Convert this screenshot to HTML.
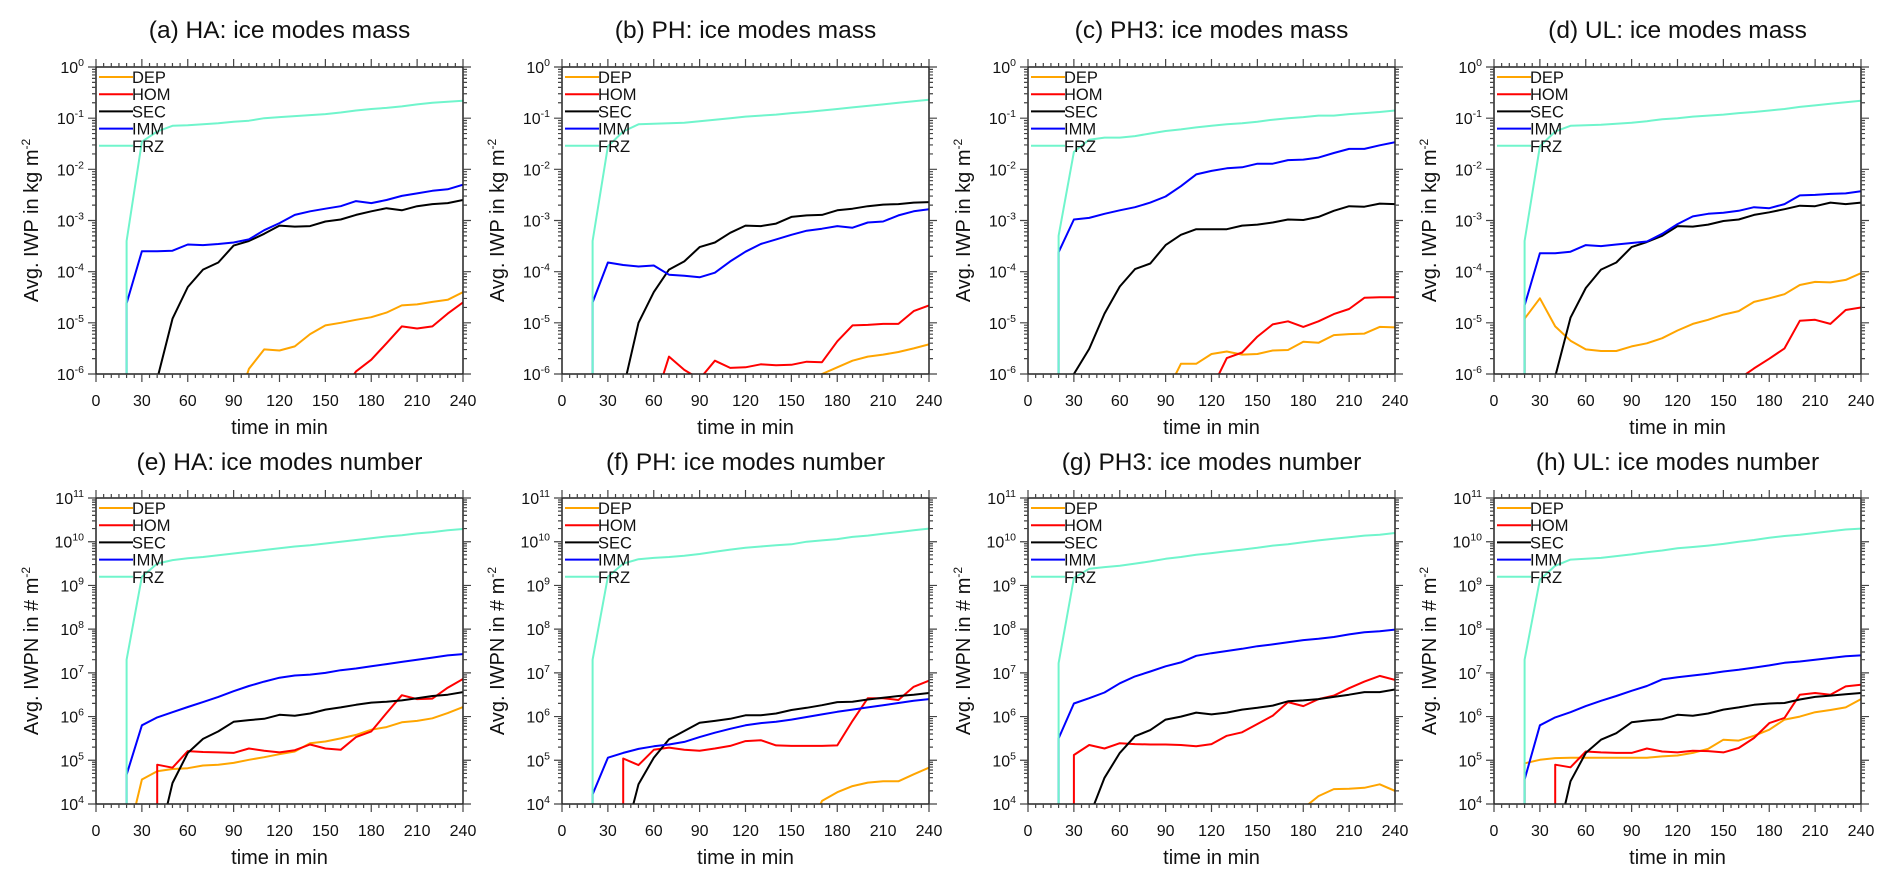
<!DOCTYPE html>
<html><head><meta charset="utf-8"><style>
html,body{margin:0;padding:0;background:#fff;}
svg{display:block;font-family:"Liberation Sans",Arial,sans-serif;}
</style></head><body>
<svg id="fig" width="1892" height="883" viewBox="0 0 1892 883" xmlns="http://www.w3.org/2000/svg"></svg>
<script>
// time axis (minutes)
const times = [0,10,20,30,40,50,60,70,80,90,100,110,120,130,140,150,160,170,180,190,200,210,220,230,240];
const seriesNames = ["DEP","HOM","SEC","IMM","FRZ"];
const seriesColors = ["#ffa500","#ff0000","#000000","#0000ff","#70f5cc"];
const panelTitles = ["(a) HA: ice modes mass","(b) PH: ice modes mass","(c) PH3: ice modes mass","(d) UL: ice modes mass",
 "(e) HA: ice modes number","(f) PH: ice modes number","(g) PH3: ice modes number","(h) UL: ice modes number"];
const xTickLabels = [0,30,60,90,120,150,180,210,240];
const massExpTicks = [-6,-5,-4,-3,-2,-1,0];
const numExpTicks = [4,5,6,7,8,9,10,11];
const n=null;
// log10 values, one array per series per panel
const aDEP=[n,n,n,n,n,n,n,n,n,-6.8,-5.9,-5.52,-5.54,-5.46,-5.22,-5.05,-5.0,-4.94,-4.89,-4.8,-4.66,-4.64,-4.59,-4.55,-4.4];
const aHOM=[n,n,n,n,n,n,n,n,n,n,n,n,n,n,n,n,-6.4,-5.95,-5.72,-5.4,-5.07,-5.11,-5.07,-4.82,-4.6];
const aSEC=[n,n,n,n,-6.1,-4.92,-4.3,-3.96,-3.82,-3.49,-3.4,-3.26,-3.1,-3.12,-3.11,-3.02,-2.98,-2.89,-2.82,-2.76,-2.8,-2.72,-2.68,-2.66,-2.6];
const aIMM=[n,n,-4.62,-3.6,-3.6,-3.59,-3.47,-3.48,-3.46,-3.43,-3.37,-3.19,-3.05,-2.89,-2.82,-2.77,-2.72,-2.62,-2.66,-2.6,-2.52,-2.47,-2.42,-2.39,-2.3];
const aFRZ=[n,n,-3.4,-1.46,-1.26,-1.15,-1.14,-1.12,-1.1,-1.07,-1.05,-1.0,-0.98,-0.96,-0.94,-0.92,-0.89,-0.85,-0.82,-0.8,-0.77,-0.73,-0.7,-0.68,-0.66];
const bDEP=[n,n,n,n,n,n,n,n,n,n,n,n,n,n,n,n,-6.4,-6.0,-5.87,-5.74,-5.66,-5.62,-5.57,-5.5,-5.42];
const bHOM=[n,n,n,n,n,n,-6.6,-5.66,-5.92,-6.1,-5.74,-5.88,-5.87,-5.81,-5.83,-5.82,-5.76,-5.77,-5.36,-5.05,-5.04,-5.02,-5.02,-4.77,-4.66];
const bSEC=[n,n,n,n,-6.3,-5.0,-4.4,-3.96,-3.8,-3.52,-3.43,-3.24,-3.1,-3.11,-3.06,-2.93,-2.9,-2.89,-2.8,-2.77,-2.72,-2.69,-2.68,-2.65,-2.64];
const bIMM=[n,n,-4.6,-3.82,-3.87,-3.9,-3.88,-4.06,-4.08,-4.11,-4.02,-3.8,-3.61,-3.46,-3.37,-3.28,-3.2,-3.16,-3.11,-3.14,-3.04,-3.02,-2.9,-2.82,-2.78];
const bFRZ=[n,n,-3.4,-1.55,-1.26,-1.12,-1.11,-1.1,-1.09,-1.06,-1.03,-1.0,-0.97,-0.95,-0.93,-0.9,-0.88,-0.85,-0.82,-0.79,-0.76,-0.73,-0.7,-0.67,-0.64];
const cDEP=[n,n,n,n,n,n,n,n,n,-6.4,-5.8,-5.8,-5.61,-5.56,-5.62,-5.61,-5.54,-5.53,-5.37,-5.39,-5.24,-5.22,-5.21,-5.08,-5.09];
const cHOM=[n,n,n,n,n,n,n,n,n,n,n,n,-6.3,-5.69,-5.58,-5.27,-5.03,-4.97,-5.08,-4.97,-4.83,-4.73,-4.51,-4.5,-4.5];
const cSEC=[n,n,n,-6.0,-5.51,-4.82,-4.29,-3.95,-3.84,-3.48,-3.28,-3.17,-3.17,-3.17,-3.1,-3.08,-3.04,-2.98,-2.99,-2.93,-2.81,-2.72,-2.73,-2.67,-2.68];
const cIMM=[n,n,-3.62,-2.98,-2.95,-2.87,-2.8,-2.74,-2.65,-2.53,-2.33,-2.1,-2.03,-1.98,-1.96,-1.89,-1.89,-1.82,-1.81,-1.77,-1.68,-1.6,-1.6,-1.53,-1.47];
const cFRZ=[n,n,-3.3,-1.66,-1.42,-1.38,-1.38,-1.35,-1.3,-1.25,-1.22,-1.18,-1.15,-1.12,-1.1,-1.07,-1.03,-1.0,-0.98,-0.95,-0.95,-0.92,-0.9,-0.88,-0.85];
const dDEP=[n,n,-4.92,-4.52,-5.07,-5.35,-5.52,-5.55,-5.55,-5.46,-5.4,-5.3,-5.15,-5.02,-4.94,-4.84,-4.77,-4.59,-4.52,-4.44,-4.26,-4.2,-4.21,-4.16,-4.03];
const dHOM=[n,n,n,n,n,n,n,n,n,n,n,n,n,n,n,n,-6.1,-5.89,-5.7,-5.5,-4.96,-4.94,-5.02,-4.75,-4.7];
const dSEC=[n,n,n,n,-6.05,-4.9,-4.32,-3.96,-3.82,-3.52,-3.42,-3.3,-3.11,-3.12,-3.08,-3.01,-2.98,-2.89,-2.84,-2.78,-2.71,-2.72,-2.65,-2.68,-2.65];
const dIMM=[n,n,-4.66,-3.64,-3.64,-3.61,-3.48,-3.5,-3.47,-3.44,-3.41,-3.26,-3.07,-2.92,-2.87,-2.85,-2.81,-2.74,-2.76,-2.68,-2.51,-2.5,-2.48,-2.47,-2.43];
const dFRZ=[n,n,-3.4,-1.55,-1.26,-1.15,-1.14,-1.13,-1.11,-1.09,-1.06,-1.02,-1.0,-0.97,-0.95,-0.93,-0.9,-0.88,-0.85,-0.82,-0.78,-0.75,-0.72,-0.69,-0.66];
const eDEP=[n,n,3.1,4.56,4.75,4.8,4.82,4.88,4.9,4.94,5.01,5.07,5.14,5.2,5.39,5.43,5.5,5.58,5.7,5.76,5.87,5.9,5.96,6.08,6.22];
const eHOM=[n,n,n,n,4.9,4.83,5.21,5.19,5.18,5.17,5.27,5.22,5.18,5.23,5.36,5.27,5.24,5.53,5.66,6.08,6.49,6.4,6.41,6.66,6.86];
const eSEC=[n,n,n,n,3.0,4.48,5.17,5.49,5.66,5.88,5.92,5.95,6.04,6.02,6.07,6.16,6.21,6.27,6.32,6.34,6.37,6.42,6.47,6.5,6.56];
const eIMM=[n,n,4.67,5.8,5.98,6.1,6.22,6.33,6.45,6.58,6.7,6.8,6.89,6.94,6.96,7.0,7.06,7.1,7.15,7.2,7.25,7.3,7.35,7.4,7.43];
const eFRZ=[n,n,7.3,9.2,9.5,9.58,9.62,9.65,9.69,9.73,9.77,9.81,9.85,9.89,9.92,9.96,10.0,10.04,10.08,10.12,10.15,10.19,10.22,10.26,10.29];
const fDEP=[n,n,n,n,n,n,n,n,n,n,n,n,n,n,n,n,3.3,4.07,4.27,4.41,4.49,4.52,4.52,4.68,4.83];
const fHOM=[n,n,n,n,5.04,4.89,5.24,5.29,5.24,5.22,5.27,5.33,5.44,5.46,5.34,5.33,5.33,5.33,5.34,5.9,6.42,6.42,6.38,6.68,6.82];
const fSEC=[n,n,n,n,3.1,4.45,5.06,5.48,5.67,5.86,5.9,5.95,6.03,6.03,6.07,6.15,6.2,6.26,6.33,6.34,6.39,6.43,6.47,6.5,6.54];
const fIMM=[n,n,4.22,5.06,5.17,5.26,5.32,5.36,5.42,5.53,5.63,5.72,5.8,5.85,5.88,5.93,5.99,6.05,6.11,6.16,6.21,6.26,6.31,6.36,6.4];
const fFRZ=[n,n,7.3,9.2,9.5,9.6,9.63,9.65,9.68,9.72,9.77,9.82,9.86,9.89,9.92,9.94,10.0,10.03,10.06,10.11,10.14,10.18,10.22,10.26,10.3];
const gDEP=[n,n,n,n,n,n,n,n,n,n,n,n,n,n,n,n,n,n,3.9,4.18,4.34,4.35,4.37,4.45,4.3];
const gHOM=[n,n,n,5.12,5.35,5.27,5.39,5.37,5.36,5.36,5.35,5.32,5.37,5.56,5.64,5.83,6.02,6.33,6.24,6.4,6.48,6.65,6.8,6.93,6.84];
const gSEC=[n,n,n,n,3.7,4.6,5.17,5.55,5.69,5.93,6.0,6.09,6.05,6.09,6.16,6.2,6.25,6.35,6.37,6.4,6.45,6.5,6.56,6.56,6.62];
const gIMM=[n,n,5.5,6.3,6.42,6.55,6.76,6.92,7.03,7.15,7.24,7.39,7.45,7.5,7.55,7.61,7.65,7.7,7.75,7.78,7.82,7.88,7.93,7.95,7.99];
const gFRZ=[n,n,7.22,9.17,9.38,9.42,9.45,9.5,9.55,9.61,9.65,9.7,9.74,9.78,9.82,9.86,9.91,9.94,9.99,10.03,10.07,10.1,10.14,10.16,10.2];
const hDEP=[n,n,4.93,5.01,5.05,5.06,5.06,5.06,5.06,5.06,5.06,5.09,5.11,5.17,5.26,5.47,5.45,5.56,5.7,5.93,6.0,6.1,6.15,6.21,6.4];
const hHOM=[n,n,n,n,4.9,4.84,5.2,5.18,5.17,5.17,5.27,5.2,5.18,5.22,5.21,5.18,5.28,5.51,5.85,5.97,6.5,6.54,6.5,6.69,6.73];
const hSEC=[n,n,n,n,3.0,4.52,5.17,5.47,5.62,5.87,5.91,5.94,6.04,6.02,6.07,6.16,6.21,6.27,6.3,6.31,6.39,6.45,6.48,6.51,6.54];
const hIMM=[n,n,4.56,5.8,5.98,6.1,6.24,6.36,6.47,6.59,6.7,6.85,6.9,6.94,6.98,7.03,7.07,7.12,7.17,7.23,7.26,7.3,7.34,7.38,7.4];
const hFRZ=[n,n,7.3,9.13,9.45,9.59,9.61,9.63,9.67,9.71,9.76,9.8,9.85,9.88,9.91,9.95,10.0,10.04,10.09,10.13,10.16,10.2,10.24,10.28,10.3];
const panelSeries=[[aDEP,aHOM,aSEC,aIMM,aFRZ],[bDEP,bHOM,bSEC,bIMM,bFRZ],[cDEP,cHOM,cSEC,cIMM,cFRZ],[dDEP,dHOM,dSEC,dIMM,dFRZ],
 [eDEP,eHOM,eSEC,eIMM,eFRZ],[fDEP,fHOM,fSEC,fIMM,fFRZ],[gDEP,gHOM,gSEC,gIMM,gFRZ],[hDEP,hHOM,hSEC,hIMM,hFRZ]];

const NS="http://www.w3.org/2000/svg";
const svg=document.getElementById('fig');
function mk(tag,attrs,parent){const e=document.createElementNS(NS,tag);for(const k in attrs)e.setAttribute(k,attrs[k]);(parent||svg).appendChild(e);return e;}
const lefts=[96,562,1028,1494], W=367;
const rows=[{top:67,bot:374,min:-6,max:0,ticks:massExpTicks,ytitle:"Avg. IWP in kg m",titleY:38},
            {top:498,bot:804,min:4,max:11,ticks:numExpTicks,ytitle:"Avg. IWPN in # m",titleY:470}];
for(let p=0;p<8;p++){
  const r=rows[p<4?0:1], L=lefts[p%4], R=L+W;
  const xs=t=>L+t/240*W;
  const ys=v=>r.bot-(v-r.min)/(r.max-r.min)*(r.bot-r.top);
  const g=mk('g',{});
  
  
  const tt=mk('text',{x:(L+R)/2,y:r.titleY,'text-anchor':'middle','font-size':24.5,fill:'#111'},g);
  tt.textContent=panelTitles[p];
  
  
  const cid='clip'+p;
  const cp=mk('clipPath',{id:cid},g);mk('rect',{x:L,y:r.top,width:W,height:r.bot-r.top},cp);
  const sg=mk('g',{'clip-path':'url(#'+cid+')'},g);
  panelSeries[p].forEach((arr,si)=>{
    let d='',started=false;
    arr.forEach((v,i)=>{
      if(v===null){started=false;return;}
      const x=xs(times[i]).toFixed(1), y=ys(v).toFixed(1);
      if(!started){d+='M'+x+' '+(r.bot+20)+' L'+x+' '+y;started=true;} else d+=' L'+x+' '+y;
    });
    const pth=mk('path',{d:d,fill:'none',stroke:seriesColors[si],'stroke-width':2,'stroke-linejoin':'round'},sg);
    
    
  });
  const fr=mk('rect',{x:L,y:r.top,width:W,height:r.bot-r.top,fill:'none',stroke:'#222','stroke-width':1.5},g);
  
  
  let td='';
  for(let t=0;t<=240;t+=5){const x=xs(t),len=(t%30===0)?8:4;td+=`M${x} ${r.bot}v${len}M${x} ${r.top}v${-len}`;}
  r.ticks.forEach((e,i)=>{
    const y=ys(e);td+=`M${L} ${y}h-8M${R} ${y}h8`;
    if(i<r.ticks.length-1)for(let m=2;m<10;m++){const yy=ys(e+Math.log10(m));td+=`M${L} ${yy}h-4M${R} ${yy}h4`;}
  });
  mk('path',{d:td,stroke:'#444','stroke-width':1.2,fill:'none'},g);
  xTickLabels.forEach(t=>{
    const tl=mk('text',{x:xs(t),y:r.bot+32,'text-anchor':'middle','font-size':16,fill:'#111'},g);
    tl.textContent=t;
    
    
  });
  r.ticks.forEach(e=>{
    const tl=mk('text',{x:L-12,y:ys(e)+6,'text-anchor':'end','font-size':16,fill:'#111'},g);
    
    
    const t1=mk('tspan',{},tl);t1.textContent='10';
    const t2=mk('tspan',{dy:-7,'font-size':10.5},tl);t2.textContent=String(e);
  });
  const xt=mk('text',{x:(L+R)/2,y:r.bot+60,'text-anchor':'middle','font-size':20,fill:'#111'},g);
  xt.textContent='time in min';
  
  
  const cy=(r.top+r.bot)/2, cx=L-58;
  const yt=mk('text',{x:cx,y:cy,'text-anchor':'middle','font-size':20,fill:'#111',transform:`rotate(-90 ${cx} ${cy})`},g);
  
  
  const y1=mk('tspan',{},yt);y1.textContent=r.ytitle;
  const y2=mk('tspan',{dy:-8,'font-size':12},yt);y2.textContent='-2';
  const lg=mk('g',{},g);
  
  
  seriesNames.forEach((nm,i)=>{
    const ly=r.top+10+i*17.2;
    const it=mk('g',{},lg);
    
    
    mk('line',{x1:L+3,x2:L+37,y1:ly,y2:ly,stroke:seriesColors[i],'stroke-width':2},it);
    const lt=mk('text',{x:L+36,y:ly+6,'font-size':16.5,fill:'#111'},it);lt.textContent=nm;
  });
}
</script>
</body></html>
